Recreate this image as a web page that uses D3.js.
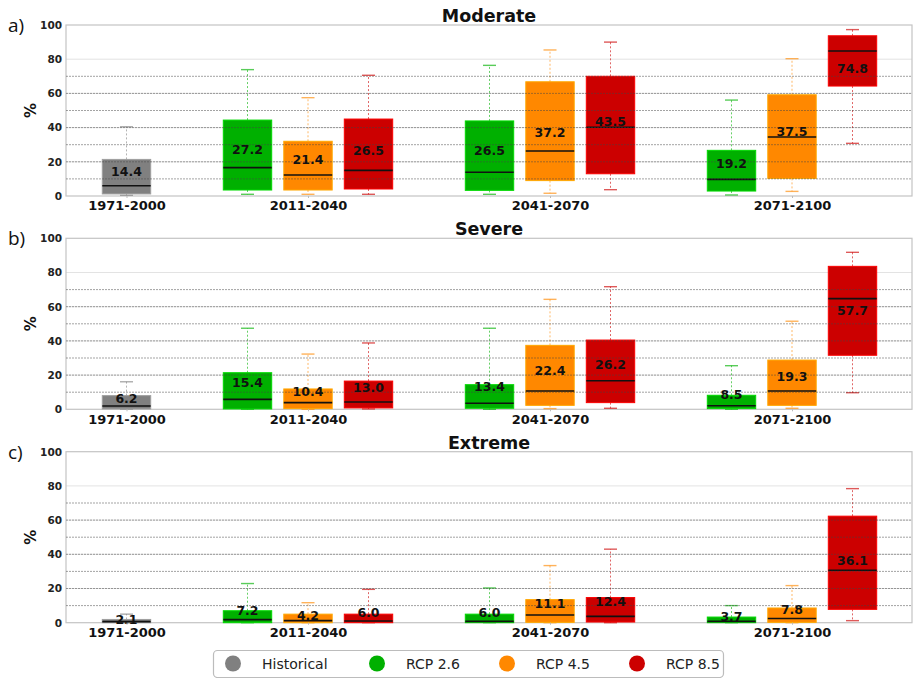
<!DOCTYPE html>
<html>
<head>
<meta charset="utf-8">
<script src="https://cdn.jsdelivr.net/npm/d3@7"></script>
<style>
  html, body { margin: 0; padding: 0; background: #fff; }
  svg { display: block; font-family: "DejaVu Sans", sans-serif; }
</style>
</head>
<body>
<svg id="chart" width="913" height="678"></svg>
<script>
// Periods on the x axis and the scenarios drawn within each period
const periods = ["1971-2000", "2011-2040", "2041-2070", "2071-2100"];
const scenarios = ["Historical", "RCP 2.6", "RCP 4.5", "RCP 8.5"];
const scenarioColors = ["#808080", "#00b000", "#ff8800", "#cc0000"];
const panelTitles = ["Moderate", "Severe", "Extreme"];
const panelLetters = ["a)", "b)", "c)"];
const yTicks = [0, 20, 40, 60, 80, 100];
const dashedLevels = [10, 20, 30, 40, 50, 60, 70];

// Box order: Historical 1971-2000, then RCP 2.6 / 4.5 / 8.5 for each future period
// Each row: [whisker low, Q1, median, Q3, whisker high, mean]
const moderateStats = [
  [0.4, 1.2, 6.0, 21.4, 40.5, 14.4],
  [1.0, 3.5, 16.6, 44.4, 73.9, 27.2],
  [1.0, 3.5, 12.3, 32.0, 57.5, 21.4],
  [1.0, 4.1, 15.0, 45.0, 70.6, 26.5],
  [1.0, 3.3, 13.9, 43.9, 76.4, 26.5],
  [1.6, 9.0, 26.3, 66.8, 85.4, 37.2],
  [3.7, 13.0, 40.2, 70.0, 90.0, 43.5],
  [0.6, 2.9, 9.7, 26.7, 56.1, 19.2],
  [2.7, 10.3, 34.5, 59.2, 80.3, 37.5],
  [30.8, 64.3, 84.8, 93.7, 97.3, 74.8]
];
const severeStats = [
  [0.0, 0.2, 1.9, 8.0, 16.1, 6.2],
  [0.0, 0.2, 5.8, 21.4, 47.4, 15.4],
  [0.0, 0.4, 3.9, 11.9, 32.3, 10.4],
  [0.2, 0.8, 4.3, 16.5, 38.8, 13.0],
  [0.0, 0.6, 3.5, 14.4, 47.4, 13.4],
  [0.4, 2.3, 10.7, 37.4, 64.3, 22.4],
  [0.6, 3.9, 16.7, 40.5, 71.7, 26.2],
  [0.0, 0.4, 2.1, 8.2, 25.5, 8.5],
  [0.6, 2.3, 10.7, 28.8, 51.5, 19.3],
  [9.7, 31.6, 64.7, 83.6, 91.8, 57.7]
];
const extremeStats = [
  [0.0, 0.0, 0.6, 1.9, 5.0, 2.1],
  [0.0, 0.0, 1.8, 7.0, 22.9, 7.2],
  [0.0, 0.0, 1.2, 5.0, 11.7, 4.2],
  [0.0, 0.0, 1.0, 5.0, 19.5, 6.0],
  [0.0, 0.0, 0.8, 5.0, 20.3, 6.0],
  [0.0, 0.2, 4.5, 13.5, 33.4, 11.1],
  [0.0, 0.4, 3.7, 14.7, 43.0, 12.4],
  [0.0, 0.0, 0.8, 3.3, 10.0, 3.7],
  [0.0, 0.2, 2.5, 8.6, 21.7, 7.8],
  [1.2, 7.8, 30.7, 62.3, 78.4, 36.1]
];
const panelStats = [moderateStats, severeStats, extremeStats];

// Box identities (period index, scenario index) in the same order as the stat rows
const boxKeys = [[0, 0]];
for (let p = 1; p < periods.length; p++) for (let s = 1; s < scenarios.length; s++) boxKeys.push([p, s]);
const boxPos = ([p, s]) => p === 0 ? 0 : 4 * (p - 1) + 1 + s;
const periodPos = p => p === 0 ? 0 : 4 * (p - 1) + 3;

const svg = d3.select("#chart");
const left = 66, right = 912;
const x = d3.scaleLinear().domain([-1, 13]).range([left, right + 1]);
const boxW = x(0.8) - x(0);
const capW = 13;
const panelTops = [25, 238.3, 451.7];
const panelH = 171;

panelStats.forEach((stats, pi) => {
  const top = panelTops[pi], bottom = top + panelH;
  const y = d3.scaleLinear().domain([0, 100]).range([bottom, top]);
  const g = svg.append("g");

  // light major grid
  g.selectAll("line.major").data(yTicks.filter(v => v > 0 && v < 100)).join("line")
    .attr("x1", left).attr("x2", right).attr("y1", d => y(d)).attr("y2", d => y(d))
    .attr("stroke", "#e3e3e3").attr("stroke-width", 1);

  // frame
  g.append("rect").attr("x", left).attr("y", top).attr("width", right - left).attr("height", panelH)
    .attr("fill", "none").attr("stroke", "#c4c4c4").attr("stroke-width", 1.2);

  const rows = stats.map((r, i) => ({ key: boxKeys[i], lo: r[0], q1: r[1], med: r[2], q3: r[3], hi: r[4], mean: r[5] }));
  const bx = d => x(boxPos(d.key));
  const col = d => scenarioColors[d.key[1]];

  // whiskers
  g.selectAll("line.wu").data(rows).join("line")
    .attr("x1", bx).attr("x2", bx).attr("y1", d => y(d.q3)).attr("y2", d => y(d.hi))
    .attr("stroke", col).attr("stroke-opacity", 0.6).attr("stroke-dasharray", "2,2").attr("stroke-width", 1);
  g.selectAll("line.wl").data(rows).join("line")
    .attr("x1", bx).attr("x2", bx).attr("y1", d => y(d.q1)).attr("y2", d => y(d.lo))
    .attr("stroke", col).attr("stroke-opacity", 0.6).attr("stroke-dasharray", "2,2").attr("stroke-width", 1);
  ["hi", "lo"].forEach(k => {
    g.selectAll("line.cap" + k).data(rows).join("line")
      .attr("x1", d => bx(d) - capW / 2).attr("x2", d => bx(d) + capW / 2)
      .attr("y1", d => y(d[k])).attr("y2", d => y(d[k]))
      .attr("stroke", col).attr("stroke-opacity", 0.65).attr("stroke-width", 1.4);
  });

  // boxes
  g.selectAll("rect.box").data(rows).join("rect")
    .attr("x", d => bx(d) - boxW / 2).attr("width", boxW)
    .attr("y", d => y(d.q3)).attr("height", d => Math.max(0.8, y(d.q1) - y(d.q3)))
    .attr("fill", col).attr("stroke", d => d3.color(col(d)).brighter(0.6)).attr("stroke-width", 1);

  // medians
  g.selectAll("line.med").data(rows).join("line")
    .attr("x1", d => bx(d) - boxW / 2).attr("x2", d => bx(d) + boxW / 2)
    .attr("y1", d => y(d.med)).attr("y2", d => y(d.med))
    .attr("stroke", "#111").attr("stroke-width", 1.6);

  // dashed reference levels over the boxes
  g.selectAll("line.ref").data(dashedLevels).join("line")
    .attr("x1", left).attr("x2", right).attr("y1", d => y(d)).attr("y2", d => y(d))
    .attr("stroke", "#444").attr("stroke-opacity", 0.55).attr("stroke-width", 0.9).attr("stroke-dasharray", "2,1");

  // mean labels
  g.selectAll("text.mean").data(rows).join("text")
    .attr("x", bx).attr("y", d => y(d.mean)).attr("dy", "0.36em")
    .attr("text-anchor", "middle").attr("font-weight", "bold").attr("font-size", 12.5).attr("fill", "#111")
    .text(d => d.mean.toFixed(1));

  // y axis ticks
  const yAxis = d3.axisLeft(y).tickValues(yTicks).tickSize(0).tickPadding(4);
  const ya = g.append("g").attr("transform", `translate(${left},0)`).call(yAxis);
  ya.select(".domain").remove();
  ya.selectAll("text").attr("font-family", "DejaVu Sans, sans-serif").attr("font-size", 10.5)
    .attr("font-weight", "bold").attr("fill", "#222");

  // x axis period labels
  const xAxis = d3.axisBottom(x).tickValues(periods.map((_, i) => periodPos(i)))
    .tickFormat((_, i) => periods[i]).tickSize(2).tickPadding(3);
  const xa = g.append("g").attr("transform", `translate(0,${bottom})`).call(xAxis);
  xa.select(".domain").remove();
  xa.selectAll("line").attr("stroke", "#bbb");
  xa.selectAll("text").attr("font-family", "DejaVu Sans, sans-serif").attr("font-size", 13)
    .attr("font-weight", "bold").attr("fill", "#111");

  // titles and labels
  svg.append("text").attr("x", (left + right) / 2).attr("y", top - 3)
    .attr("text-anchor", "middle").attr("font-weight", "bold").attr("font-size", 17.5).attr("fill", "#111")
    .text(panelTitles[pi]);
  svg.append("text").attr("x", 8).attr("y", top + 7)
    .attr("font-family", "Open Sans, sans-serif").attr("font-size", 19).attr("fill", "#111")
    .text(panelLetters[pi]);
  svg.append("text").attr("transform", `translate(31,${(top + bottom) / 2}) rotate(-90)`)
    .attr("text-anchor", "middle").attr("dy", "0.35em").attr("font-weight", "bold").attr("font-size", 15).attr("fill", "#111")
    .text("%");
});

// legend
const legend = svg.append("g");
legend.append("rect").attr("x", 213.5).attr("y", 650.5).attr("width", 510).attr("height", 27).attr("rx", 4)
  .attr("fill", "#fff").attr("stroke", "#bcbcbc").attr("stroke-width", 1.2);
const legendX = [233, 377, 507, 637];
scenarios.forEach((s, i) => {
  legend.append("circle").attr("cx", legendX[i]).attr("cy", 663.5).attr("r", 8).attr("fill", scenarioColors[i]);
  legend.append("text").attr("x", legendX[i] + 29).attr("y", 668.5).attr("font-size", 14).attr("fill", "#222").text(s);
});
</script>
</body>
</html>
